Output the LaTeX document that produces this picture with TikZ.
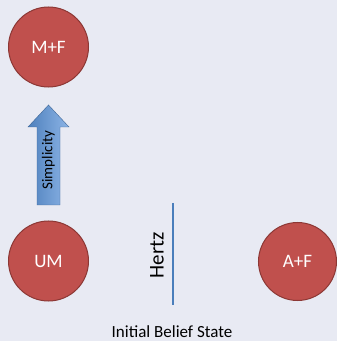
\documentclass[tikz,border=0pt]{standalone}
\usepackage{fontspec}
\setmainfont{Carlito}
\definecolor{bg}{RGB}{232,234,243}
\definecolor{cfill}{RGB}{192,80,77}
\definecolor{cedge}{RGB}{140,56,53}
\definecolor{ablue}{RGB}{79,129,189}
\definecolor{alight}{RGB}{140,180,230}
\definecolor{lineblue}{RGB}{74,126,187}
\begin{document}
\begin{tikzpicture}[x=1pt,y=1pt,
  state/.style={circle, fill=cfill, draw=cedge, line width=1pt, minimum size=#1, inner sep=0pt, text=white, font=\fontsize{19}{19}\selectfont},
  vlabel/.style={rotate=90, inner sep=0pt, text=black}]
\fill[bg] (0,0) rectangle (337,341);
\useasboundingbox (0,0) rectangle (337,341);
\node[state=80pt] (mf) at (48.5,294) {M+F};
\node[state=80pt] (um) at (48.5,80) {UM};
\node[state=78pt] (af) at (297.5,79.5) {A+F};
% arrow
\shade[left color=ablue, right color=alight, draw=ablue!80!black, line width=0.4pt]
  (37,136) -- (60,136) -- (60,214) -- (69,214) -- (48.5,236) -- (28,214) -- (37,214) -- cycle;
\node[vlabel, font=\fontsize{15}{15}\selectfont] (simp) at (48.5,181) {Simplicity};
% Hertz line
\coordinate (ht) at (173,138);
\coordinate (hb) at (173,36);
\draw[lineblue, line width=2pt] (ht) -- (hb);
\node[vlabel, font=\fontsize{21}{21}\selectfont] (hertz) at (157,86) {Hertz};
\node[inner sep=0pt, text depth=0pt, anchor=base, font=\fontsize{17}{17}\selectfont] (title) at (172,3.5) {Initial Belief State};
\end{tikzpicture}
\end{document}
